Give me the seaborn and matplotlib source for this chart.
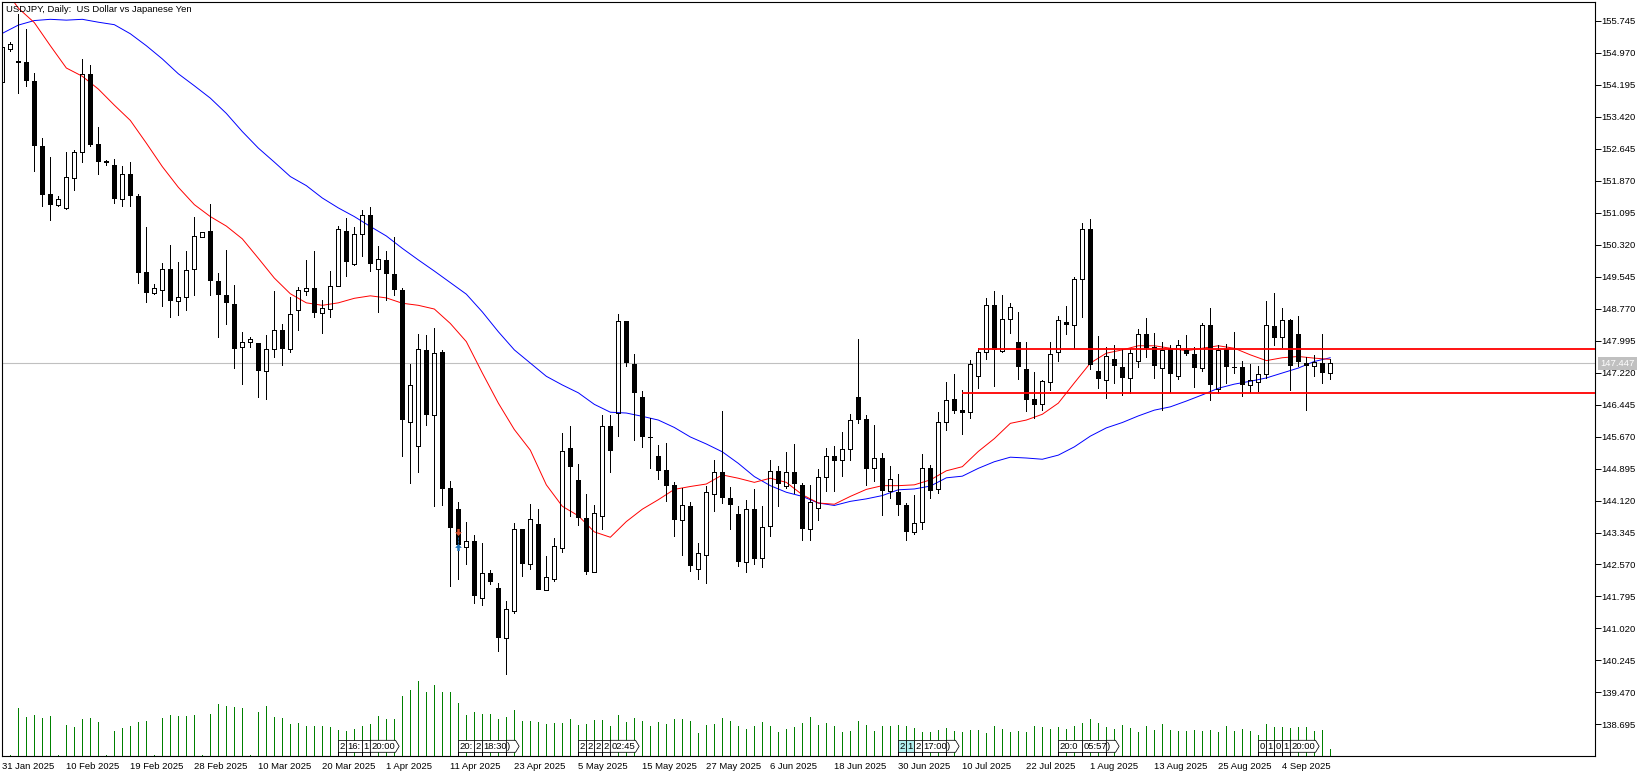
import matplotlib
matplotlib.use("Agg")
import matplotlib.pyplot as plt
import seaborn as sns
from matplotlib.patches import Polygon

# daily candles, oldest first
opens = [154.26, 155.07, 154.78, 154.74, 154.28, 152.71, 151.54, 151.29, 151.20, 151.94,
         152.56, 154.45, 152.76, 152.32, 152.24, 151.42, 152.02, 151.49, 149.65, 149.15,
         149.21, 149.72, 148.95, 149.04, 149.72, 150.51, 150.66, 149.44, 149.11, 148.88,
         147.83, 147.96, 147.93, 147.25, 147.79, 148.25, 147.80, 148.74, 149.19, 149.27,
         148.67, 148.77, 149.33, 150.66, 149.86, 150.57, 151.04, 149.72, 149.94, 149.60,
         149.23, 146.03, 145.43, 147.76, 146.20, 147.72, 144.42, 143.91, 142.99, 143.13,
         141.77, 142.36, 142.00, 140.78, 141.45, 143.44, 142.57, 143.55, 141.96, 142.23,
         142.96, 145.39, 144.61, 143.70, 142.40, 143.74, 145.92, 146.25, 148.46, 147.43,
         146.62, 145.64, 145.19, 144.85, 144.49, 143.65, 143.98, 142.46, 142.81, 144.27,
         144.80, 144.18, 143.80, 142.64, 143.91, 142.72, 143.50, 144.83, 144.48, 144.80,
         144.50, 143.44, 143.94, 144.68, 145.21, 145.09, 145.37, 146.64, 146.09, 144.90,
         145.14, 144.36, 144.32, 144.01, 143.36, 143.59, 144.90, 144.39, 146.02, 146.57,
         146.31, 146.26, 147.14, 147.71, 148.85, 147.75, 148.51, 147.96, 147.31, 146.57,
         146.45, 146.98, 147.71, 148.44, 148.38, 149.48, 150.71, 147.27, 147.03, 147.55,
         147.35, 147.10, 147.50, 148.15, 147.84, 147.33, 147.79, 147.13, 147.77, 147.67,
         147.33, 148.37, 146.82, 147.80, 147.36, 147.36, 146.91, 147.00, 147.18, 148.34,
         148.08, 148.49, 148.15, 147.45, 147.39, 147.45, 147.20]
highs = [155.20, 155.24, 155.91, 155.55, 154.49, 152.91, 152.44, 151.49, 152.56, 152.62,
         154.82, 154.68, 153.18, 152.38, 152.39, 152.23, 152.32, 151.55, 150.75, 149.37,
         149.87, 150.31, 149.91, 150.17, 150.99, 150.63, 151.30, 149.63, 150.19, 149.35,
         148.20, 148.08, 147.93, 148.13, 149.20, 148.40, 149.04, 149.29, 149.95, 150.17,
         148.98, 149.69, 150.77, 150.97, 150.75, 151.17, 151.24, 150.29, 150.17, 150.50,
         149.27, 147.44, 148.16, 148.13, 148.29, 147.77, 144.59, 144.09, 143.60, 143.28,
         143.08, 142.44, 142.12, 141.69, 143.57, 143.44, 144.04, 143.92, 142.78, 143.20,
         145.75, 145.93, 145.00, 144.27, 144.01, 146.20, 146.20, 148.65, 148.46, 147.68,
         146.77, 146.12, 145.47, 145.51, 144.58, 144.42, 144.09, 143.08, 144.47, 145.09,
         146.29, 144.44, 143.99, 144.14, 144.39, 143.99, 145.09, 144.96, 145.30, 145.50,
         144.55, 144.50, 144.88, 145.40, 145.45, 145.78, 146.22, 148.04, 146.19, 145.95,
         145.27, 144.95, 144.76, 144.07, 144.26, 145.25, 144.98, 146.27, 146.99, 147.19,
         146.80, 147.53, 147.81, 149.03, 149.20, 149.11, 148.91, 148.69, 147.96, 147.24,
         147.04, 147.96, 148.58, 148.83, 149.53, 150.84, 150.95, 148.11, 147.84, 147.89,
         147.80, 147.80, 148.27, 148.54, 148.17, 147.96, 147.89, 148.01, 148.13, 147.84,
         148.41, 148.78, 147.88, 147.91, 148.20, 147.50, 147.43, 147.39, 148.96, 149.15,
         148.78, 148.51, 148.59, 147.59, 147.65, 148.16, 147.55]
lows = [154.24, 155.02, 154.00, 154.16, 152.11, 151.25, 150.92, 151.26, 151.18, 151.65,
        152.32, 152.70, 152.02, 152.25, 151.34, 151.25, 151.25, 149.40, 148.92, 149.13,
        148.84, 148.57, 148.61, 148.74, 149.11, 150.50, 149.11, 148.09, 148.40, 147.32,
        146.94, 147.85, 146.64, 146.57, 147.59, 147.40, 147.71, 148.25, 149.11, 148.57,
        148.19, 148.57, 149.32, 149.55, 149.83, 150.05, 149.69, 148.70, 148.99, 149.11,
        145.19, 144.55, 144.82, 145.95, 143.99, 144.02, 142.06, 142.22, 142.58, 141.64,
        141.59, 142.09, 140.47, 139.92, 141.40, 142.28, 142.47, 141.94, 141.94, 142.16,
        142.88, 143.74, 143.53, 142.34, 142.38, 143.44, 144.82, 145.69, 147.37, 145.59,
        145.41, 144.92, 144.64, 144.10, 143.27, 142.80, 142.42, 142.23, 142.11, 143.86,
        144.07, 143.44, 142.54, 142.38, 142.59, 142.52, 143.27, 143.98, 144.42, 144.30,
        143.16, 143.16, 143.65, 144.34, 144.34, 144.72, 145.10, 146.01, 144.50, 144.59,
        143.76, 144.17, 143.78, 143.16, 143.32, 143.43, 144.19, 144.30, 145.83, 146.25,
        145.74, 146.13, 146.85, 147.55, 146.89, 147.73, 148.19, 147.06, 146.30, 146.11,
        146.32, 146.80, 147.51, 148.16, 147.82, 148.57, 147.31, 146.85, 146.60, 146.97,
        146.68, 146.73, 147.35, 147.59, 147.10, 146.32, 146.74, 147.07, 147.65, 146.87,
        147.25, 146.56, 146.73, 146.97, 147.20, 146.65, 146.75, 146.78, 147.09, 147.88,
        147.85, 146.80, 147.39, 146.31, 147.14, 146.97, 147.07]
closes = [155.10, 155.19, 154.71, 154.28, 152.70, 151.53, 151.29, 151.42, 151.95, 152.56,
          154.45, 152.74, 152.32, 152.31, 151.42, 152.02, 151.49, 149.64, 149.14, 149.27,
          149.72, 148.95, 149.05, 149.70, 150.52, 150.62, 149.43, 149.09, 148.90, 147.80,
          147.96, 148.03, 147.27, 147.79, 148.25, 147.80, 148.63, 149.22, 149.27, 148.67,
          148.78, 149.32, 150.69, 149.91, 150.57, 151.05, 149.84, 149.97, 149.60, 149.21,
          146.06, 146.91, 147.80, 146.19, 147.69, 144.40, 143.46, 143.04, 143.13, 141.81,
          142.36, 142.15, 140.78, 141.48, 143.44, 142.59, 143.67, 141.96, 142.26, 143.01,
          145.32, 144.94, 143.69, 142.38, 143.82, 145.92, 145.33, 148.46, 147.46, 146.73,
          145.65, 145.63, 144.84, 144.48, 143.66, 144.01, 142.54, 142.84, 144.32, 144.80,
          144.17, 144.00, 142.64, 143.91, 142.71, 143.49, 144.84, 144.51, 144.82, 144.51,
          143.43, 144.08, 144.68, 145.21, 145.08, 145.37, 146.07, 146.08, 144.89, 145.16,
          144.36, 144.63, 144.00, 143.36, 143.57, 144.90, 144.36, 146.02, 146.55, 146.30,
          146.25, 147.43, 147.71, 148.85, 147.77, 148.51, 148.82, 147.35, 146.56, 146.44,
          147.01, 147.67, 148.49, 148.37, 149.48, 150.71, 147.41, 147.07, 147.62, 147.37,
          147.10, 147.69, 148.15, 147.81, 147.37, 147.76, 147.18, 147.88, 147.66, 147.32,
          148.37, 146.93, 147.76, 147.35, 147.32, 146.93, 147.03, 147.18, 148.37, 148.07,
          148.49, 147.39, 147.48, 147.39, 147.48, 147.20, 147.45]

# height of the tick volume bars, same oldest-first order
volumes = [0, 1, 48, 39, 41, 38, 40, 1, 31, 29, 37, 38, 34, 1, 25, 28, 30, 34, 35, 1,
           38, 41, 40, 40, 41, 1, 42, 52, 50, 49, 48, 1, 44, 50, 39, 38, 32, 33, 30, 30,
           30, 29, 26, 25, 27, 30, 32, 40, 37, 37, 60, 66, 75, 64, 71, 64, 64, 53, 41, 44,
           42, 42, 37, 39, 46, 35, 35, 34, 32, 33, 33, 37, 31, 32, 36, 36, 30, 41, 34, 38,
           35, 30, 34, 32, 37, 37, 35, 23, 31, 32, 38, 35, 30, 27, 30, 34, 30, 24, 27, 29,
           33, 39, 31, 33, 30, 24, 25, 35, 31, 25, 30, 30, 31, 30, 28, 24, 24, 26, 28, 25,
           24, 26, 26, 23, 30, 27, 24, 25, 24, 30, 29, 27, 29, 27, 30, 33, 37, 33, 29, 27,
           31, 28, 24, 30, 26, 32, 26, 25, 25, 26, 25, 26, 24, 30, 25, 27, 25, 21, 32, 29,
           29, 28, 29, 29, 25, 26, 7]

# moving averages, read every second bar
ma_bars = list(range(0, 167, 2))
slow_ma = [155.44, 155.64, 155.75, 155.78, 155.76, 155.78, 155.71, 155.65, 155.43, 155.14,
           154.82, 154.46, 154.17, 153.87, 153.50, 153.06, 152.66, 152.32, 151.97, 151.75,
           151.45, 151.21, 151.00, 150.76, 150.53, 150.23, 149.95, 149.68, 149.40, 149.12,
           148.69, 148.21, 147.77, 147.45, 147.13, 146.92, 146.73, 146.45, 146.26, 146.24,
           146.16, 146.07, 145.89, 145.66, 145.49, 145.30, 145.02, 144.70, 144.48, 144.32,
           144.22, 144.06, 144.00, 144.10, 144.16, 144.24, 144.38, 144.40, 144.47, 144.67,
           144.71, 144.90, 145.06, 145.17, 145.15, 145.12, 145.22, 145.42, 145.68, 145.88,
           146.01, 146.17, 146.31, 146.39, 146.53, 146.68, 146.84, 146.94, 147.01, 147.09,
           147.21, 147.33, 147.49, 147.58]
fast_ma = [156.60, 156.05, 155.70, 155.14, 154.60, 154.40, 154.09, 153.70, 153.33, 152.78,
           152.21, 151.71, 151.29, 151.00, 150.77, 150.46, 149.99, 149.51, 149.13, 148.91,
           148.85, 148.91, 149.02, 149.08, 149.03, 148.90, 148.85, 148.76, 148.41, 147.97,
           147.21, 146.48, 145.84, 145.34, 144.50, 143.98, 143.75, 143.36, 143.23, 143.61,
           143.91, 144.14, 144.39, 144.46, 144.52, 144.74, 144.66, 144.56, 144.66, 144.56,
           144.26, 144.06, 144.03, 144.22, 144.39, 144.48, 144.48, 144.50, 144.62, 144.84,
           144.94, 145.31, 145.62, 145.99, 146.07, 146.21, 146.48, 146.97, 147.45, 147.69,
           147.77, 147.87, 147.87, 147.81, 147.75, 147.81, 147.87, 147.81, 147.65, 147.51,
           147.58, 147.61, 147.57, 147.54]

price_ticks = ["155.745", "154.970", "154.195", "153.420", "152.645", "151.870", "151.095", "150.320",
               "149.545", "148.770", "147.995", "147.220", "146.445", "145.670", "144.895", "144.120",
               "143.345", "142.570", "141.795", "141.020", "140.245", "139.470", "138.695"]
date_bars = list(range(0, 161, 8))
date_labels = ["31 Jan 2025", "10 Feb 2025", "19 Feb 2025", "28 Feb 2025", "10 Mar 2025", "20 Mar 2025",
               "1 Apr 2025", "11 Apr 2025", "23 Apr 2025", "5 May 2025", "15 May 2025", "27 May 2025",
               "6 Jun 2025", "18 Jun 2025", "30 Jun 2025", "10 Jul 2025", "22 Jul 2025", "1 Aug 2025",
               "13 Aug 2025", "25 Aug 2025", "4 Sep 2025"]

last_price = 147.447
level_bars = [122, 120]
level_prices = [147.80, 146.73]
sell_arrow = (57, 143.35)
buy_arrow = (57, 143.00)
trade_line = [143.24, 143.04]

# event flags along the bottom of the chart
flag_bars = [42, 43, 45, 46, 57, 59, 60, 63, 72, 73, 74, 75, 76,
             112, 113, 114, 115, 118, 132, 135, 138, 157, 158, 159, 160, 161]
flag_ends = [43, 45, 46, 49.6, 59, 60, 63, 64.6, 73, 74, 75, 76, 79.6,
             113, 114, 115, 118, 119.6, 135, 138, 139.6, 158, 159, 160, 161, 164.6]
flag_texts = ["2", "16:", "1", "20:00", "20:", "2", "18:30", ")", "2", "2", "2", "2", "02:45",
              "2", "1", "2", "17:00", ")", "20:0", "05:57", ")", "0", "1", "0", "1", "20:00"]
flag_cyan = [112, 113]

sns.set_theme(style="white")
plt.rcParams["font.family"] = ["Liberation Sans", "DejaVu Sans"]

W, H = 1648, 777
left, right, top, bottom = 2.33, 1595.3, 2, 756.3
hair = 0.55
font_size = 6.8

fig = plt.figure(figsize=(W / 100, H / 100), dpi=100, facecolor="white")
ax = fig.add_axes([left / W, 1 - bottom / H, (right - left) / W, (bottom - top) / H])

ax.axhline(last_price, color="#c0c0c0", linewidth=0.8, zorder=1)

sns.lineplot(x=ma_bars, y=slow_ma, color="#0000ff", linewidth=0.7, ax=ax, zorder=2)
sns.lineplot(x=ma_bars, y=fast_ma, color="#ff0000", linewidth=0.7, ax=ax, zorder=2)

# candles: bull bodies are hollow so the lines behind show through
for i, (o, h, l, c) in enumerate(zip(opens, highs, lows, closes)):
    body_top, body_bottom = max(o, c), min(o, c)
    ax.vlines(i, body_top, h, color="black", linewidth=hair, antialiased=False, zorder=3)
    ax.vlines(i, l, body_bottom, color="black", linewidth=hair, antialiased=False, zorder=3)
    if c > o:
        ax.bar(i, body_top - body_bottom, bottom=body_bottom, width=0.5, facecolor="none",
               edgecolor="black", linewidth=hair, antialiased=False, zorder=3)
    else:
        ax.bar(i, max(body_top - body_bottom, 0.03), bottom=body_bottom, width=0.62, color="black",
               linewidth=0, antialiased=False, zorder=3)

for start, price in zip(level_bars, level_prices):
    ax.hlines(price, start, 200, color="#ff0000", linewidth=1.3, zorder=4)

ax.plot([sell_arrow[0]] * 2, trade_line, color="#2a7fd0", linewidth=hair, linestyle=(0, (3, 1)), zorder=4)
down_arrow = [(-0.35, 1), (0.35, 1), (0.35, 0.1), (0.95, 0.1), (0, -1), (-0.95, 0.1), (-0.35, 0.1), (-0.35, 1)]
up_arrow = [(x, -y) for x, y in down_arrow]
ax.scatter(*sell_arrow, marker=down_arrow, s=26, color="#d9512c", linewidth=0, zorder=5)
ax.scatter(*buy_arrow, marker=up_arrow, s=26, color="#1a6fb5", linewidth=0, zorder=5)

px_per_price = 41.27
ax.set_xlim(0, (right - left) / 8)
ax.set_ylim(147.995 - (bottom - 340.6) / px_per_price, 147.995 + (340.6 - top) / px_per_price)

# volume pane shares the x axis, one unit is one pixel of height
vol_ax = ax.twinx()
vol_ax.set_ylim(0, bottom - top)
vol_ax.set_axis_off()
vol_ax.vlines(range(len(volumes)), 0, volumes, color="#008000", linewidth=hair, antialiased=False, zorder=1)

# twinx moves the price ticks back to the left, so they are set after it
ax.yaxis.tick_right()
ax.set_yticks([float(t) for t in price_ticks])
ax.set_yticklabels(price_ticks)
ax.set_xticks(date_bars)
ax.set_xticklabels(date_labels, ha="left")
ax.tick_params(axis="y", length=4, width=0.7, color="black", labelsize=font_size, labelcolor="black", pad=0.2)
ax.tick_params(axis="x", length=3.2, width=0.7, color="black", labelsize=font_size, labelcolor="black", pad=1)
ax.grid(False)
for spine in ax.spines.values():
    spine.set_color("black")
    spine.set_linewidth(0.8)

ax.text(1.0032, last_price, f"{last_price:.3f}", transform=ax.get_yaxis_transform(), color="white",
        fontsize=font_size, va="center", ha="left", zorder=10, clip_on=False,
        bbox=dict(facecolor="#c0c0c0", edgecolor="none", pad=1.4))

flag_low, flag_high = 4, 16
for bar, end, label in zip(flag_bars, flag_ends, flag_texts):
    face = "#b0eeee" if bar in flag_cyan else "white"
    if end == int(end):
        outline = [(bar, flag_low), (end, flag_low), (end, flag_high), (bar, flag_high)]
    else:
        outline = [(bar, flag_low), (end - 0.45, flag_low), (end, 10), (end - 0.45, flag_high), (bar, flag_high)]
    patch = Polygon(outline, closed=True, facecolor=face, edgecolor="black", linewidth=hair, zorder=3)
    vol_ax.add_patch(patch)
    vol_ax.vlines(bar, 0, flag_low, color="black", linewidth=hair, antialiased=False, zorder=3)
    flag_text = vol_ax.text(bar + 0.12, 10, label, fontsize=font_size, va="center", ha="left", color="black", zorder=4)
    flag_text.set_clip_path(patch)

fig.text(6.5 / W, 1 - 10 / H, "USDJPY, Daily:  US Dollar vs Japanese Yen", fontsize=font_size,
         color="black", va="center", ha="left", zorder=10)

fig.savefig("out.png", dpi=100, facecolor="white")
